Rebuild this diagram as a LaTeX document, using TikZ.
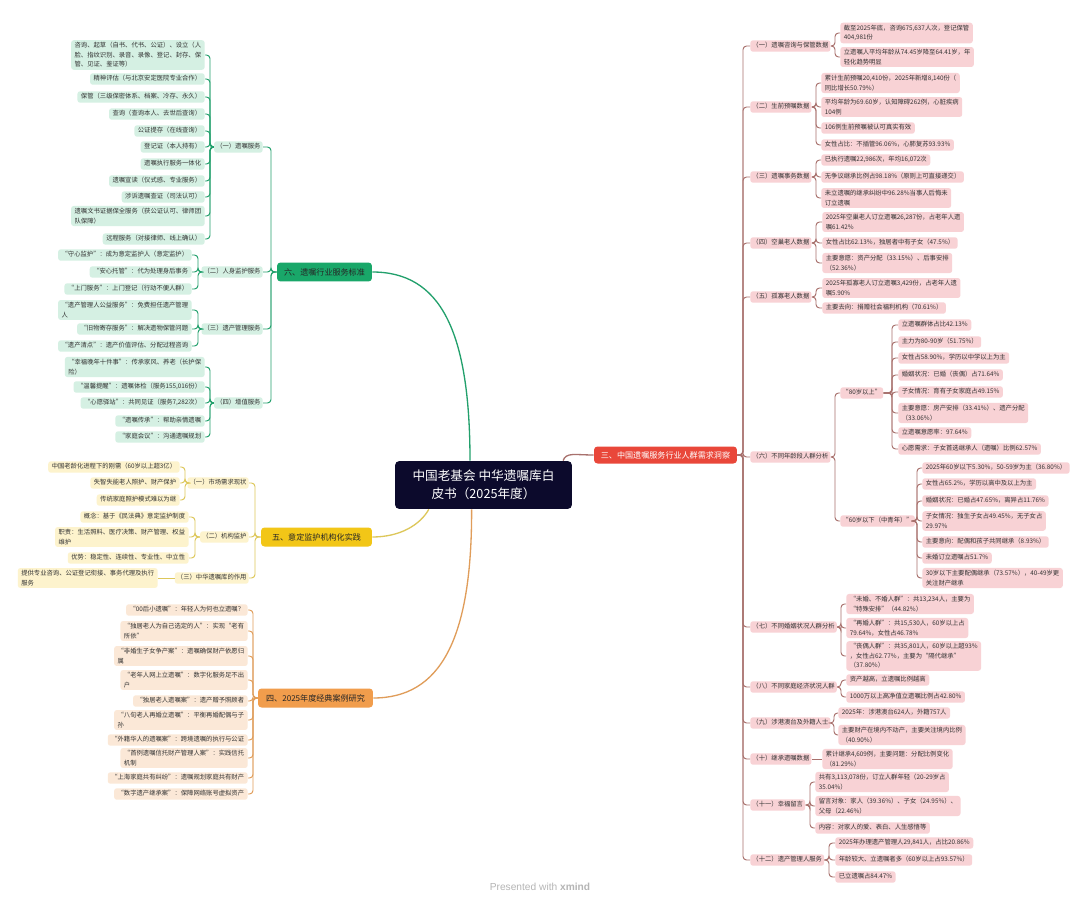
\documentclass[tikz,border=0pt]{standalone}
\usepackage{fontspec}
\setmainfont{Noto Sans CJK SC}
\newfontfamily\wmfont{Liberation Sans}
\usetikzlibrary{calc}
\definecolor{txt}{HTML}{333333}
\definecolor{rootc}{HTML}{0C0A2C}
\definecolor{gmain}{HTML}{19A769}
\definecolor{gline}{HTML}{22A06C}
\definecolor{gfill}{HTML}{D5F0E3}
\definecolor{ymain}{HTML}{F2C617}
\definecolor{yline}{HTML}{DDC75A}
\definecolor{yfill}{HTML}{FDF3CD}
\definecolor{omain}{HTML}{F19D4C}
\definecolor{oline}{HTML}{E09D5A}
\definecolor{ofill}{HTML}{FBE8D7}
\definecolor{rmain}{HTML}{E9473A}
\definecolor{rline}{HTML}{A8716D}
\definecolor{rfill}{HTML}{F8D2D5}
\definecolor{wmc}{HTML}{B5B5B5}
\tikzset{
  lf/.style={font=\fontsize{3.6}{5.4}\selectfont, text=txt, inner xsep=2pt, inner ysep=1.4pt,
             rounded corners=1.5pt, align=left, text height=2.9pt, text depth=0.8pt},
  ml/.style={text height={}, text depth={}, inner ysep=1.3pt},
  sb/.style={lf, inner xsep=1.2pt},
  G/.style={fill=gfill}, Y/.style={fill=yfill}, O/.style={fill=ofill}, R/.style={fill=rfill},
  cG/.style={draw=gline, line width=0.55pt, rounded corners=2pt},
  cY/.style={draw=yline, line width=0.55pt, rounded corners=2pt},
  cO/.style={draw=oline, line width=0.55pt, rounded corners=2pt},
  cR/.style={draw=rline, line width=0.55pt, rounded corners=2pt},
  mainB/.style={font=\fontsize{4.6}{5.6}\selectfont, rounded corners=2pt, minimum height=0.38cm, inner sep=0pt, text=black!85},
  rootB/.style={font=\fontsize{7.2}{10.2}\selectfont, fill=rootc, text=white, rounded corners=2.5pt,
             minimum width=3.54cm, minimum height=0.96cm, align=center, inner sep=0pt},
  mline/.style={line width=0.75pt}
}
\begin{document}
\begin{tikzpicture}[x=0.02cm,y=-0.02cm]
\useasboundingbox[fill=white] (0,0) rectangle (1080,906);

% ---------- root and main branches
\node[rootB] (root) at (483.5,485) {中国老基会 中华遗嘱库白\\皮书（2025年度）};
\node[mainB, fill=rmain, text=white, minimum width=2.86cm, minimum height=0.34cm] (s3) at (665.5,455) {三、中国遗嘱服务行业人群需求洞察};
\node[mainB, fill=gmain, minimum width=1.9cm] (s6) at (324.5,272) {六、遗嘱行业服务标准};
\node[mainB, fill=ymain, minimum width=2.22cm] (s5) at (316.5,537) {五、意定监护机构化实践};
\node[mainB, fill=omain, minimum width=2.3cm] (s4) at (315.5,698) {四、2025年度经典案例研究};

\draw[mline, draw=gline] (root.119) .. controls (470,330) and (440,272) .. (s6.east);
\draw[mline, draw=rline] (root.17) .. controls (566,452) and (575,455) .. (s3.west);
\draw[mline, draw=yline] (root.204) .. controls (420,525) and (400,537) .. (s5.east);
\draw[mline, draw=oline] (root.244) .. controls (472,640) and (440,698) .. (s4.east);

% ---------- 六
\node[sb,G,anchor=east] (g1) at (263,147) {（一）遗嘱服务};
\node[sb,G,anchor=east] (g2) at (263,272) {（二）人身监护服务};
\node[sb,G,anchor=east] (g3) at (263,329) {（三）遗产管理服务};
\node[sb,G,anchor=east] (g4) at (263,403) {（四）增值服务};
\coordinate (tr6) at (271,272);
\foreach \n in {g1,g2,g3,g4} \draw[cG] (s6.west) -- (tr6) |- (\n.east);

\node[lf,G,ml,anchor=east] (a1) at (205,55) {咨询、起草（自书、代书、公证）、设立（人\\脸、指纹识别、录音、录像、登记、封存、保\\管、见证、鉴证等）};
\node[lf,G,anchor=east] (a2) at (205,79) {精神评估（与北京安定医院专业合作）};
\node[lf,G,anchor=east] (a3) at (205,97) {保管（三级保密体系、档案、冷存、永久）};
\node[lf,G,anchor=east] (a4) at (205,114) {查询（查询本人、去世后查询）};
\node[lf,G,anchor=east] (a5) at (205,131) {公证提存（在线查询）};
\node[lf,G,anchor=east] (a6) at (205,147) {登记证（本人持有）};
\node[lf,G,anchor=east] (a7) at (205,164) {遗嘱执行服务一体化};
\node[lf,G,anchor=east] (a8) at (205,181) {遗嘱宣读（仪式感、专业服务）};
\node[lf,G,anchor=east] (a9) at (205,197) {涉诉遗嘱查证（司法认可）};
\node[lf,G,ml,anchor=east] (a10) at (205,216) {遗嘱文书证据保全服务（获公证认可、律师团\\队保障）};
\node[lf,G,anchor=east] (a11) at (205,239) {远程服务（对接律师、线上确认）};
\coordinate (bg1) at (210,147);
\foreach \n in {a1,a2,a3,a4,a5,a6,a7,a8,a9,a10,a11} \draw[cG] (g1.west) -- (bg1) |- (\n.east);

\node[lf,G,anchor=east] (b1) at (192,255) {“守心监护”：成为意定监护人（意定监护）};
\node[lf,G,anchor=east] (b2) at (192,272) {“安心托管”：代为处理身后事务};
\node[lf,G,anchor=east] (b3) at (192,289) {“上门服务”：上门登记（行动不便人群）};
\coordinate (bg2) at (198,272);
\foreach \n in {b1,b2,b3} \draw[cG] (g2.west) -- (bg2) |- (\n.east);

\node[lf,G,ml,anchor=east] (c1) at (192,310) {“遗产管理人公益服务”：免费担任遗产管理\\人};
\node[lf,G,anchor=east] (c2) at (192,329) {“旧物寄存服务”：解决遗物保管问题};
\node[lf,G,anchor=east] (c3) at (192,346) {“遗产清点”：遗产价值评估、分配过程咨询};
\coordinate (bg3) at (198,329);
\foreach \n in {c1,c2,c3} \draw[cG] (g3.west) -- (bg3) |- (\n.east);

\node[lf,G,ml,anchor=east] (d1) at (205,367) {“幸福晚年十件事”：传承家风、养老（长护保\\险）};
\node[lf,G,anchor=east] (d2) at (205,387) {“温馨提醒”：遗嘱体检（服务155,016份）};
\node[lf,G,anchor=east] (d3) at (205,403) {“心愿驿站”：共同见证（服务7,282次）};
\node[lf,G,anchor=east] (d4) at (205,421) {“遗嘱传承”：帮助亲情遗嘱};
\node[lf,G,anchor=east] (d5) at (205,437) {“家庭会议”：沟通遗嘱规划};
\coordinate (bg4) at (210,403);
\foreach \n in {d1,d2,d3,d4,d5} \draw[cG] (g4.west) -- (bg4) |- (\n.east);

% ---------- 五
\node[sb,Y,anchor=east] (y1) at (249,483) {（一）市场需求现状};
\node[sb,Y,anchor=east] (y2) at (249,537) {（二）机构监护};
\node[sb,Y,anchor=east] (y3) at (249,578) {（三）中华遗嘱库的作用};
\coordinate (tr5) at (255,537);
\foreach \n in {y1,y2,y3} \draw[cY] (s5.west) -- (tr5) |- (\n.east);

\node[lf,Y,anchor=east] (e1) at (180,467) {中国老龄化进程下的刚需（60岁以上超3亿）};
\node[lf,Y,anchor=east] (e2) at (180,483) {失智失能老人照护、财产保护};
\node[lf,Y,anchor=east] (e3) at (180,500) {传统家庭照护模式难以为继};
\coordinate (by1) at (185,483);
\foreach \n in {e1,e2,e3} \draw[cY] (y1.west) -- (by1) |- (\n.east);

\node[lf,Y,anchor=east] (f1) at (189,517) {概念：基于《民法典》意定监护制度};
\node[lf,Y,ml,anchor=east] (f2) at (189,537) {职责：生活照料、医疗决策、财产管理、权益\\维护};
\node[lf,Y,anchor=east] (f3) at (189,558) {优势：稳定性、连续性、专业性、中立性};
\coordinate (by2) at (195,537);
\foreach \n in {f1,f2,f3} \draw[cY] (y2.west) -- (by2) |- (\n.east);

\node[lf,Y,ml,anchor=east] (h1) at (158,578) {提供专业咨询、公证登记衔接、事务代理及执行\\服务};
\draw[cY] (y3.west) -- (h1.east);

% ---------- 四
\node[lf,O,anchor=east] (o1) at (248,610) {“00后小遗嘱”：年轻人为何也立遗嘱？};
\node[lf,O,ml,anchor=east] (o2) at (248,631) {“独居老人为自己选定的人”：实现“老有\\所依”};
\node[lf,O,ml,anchor=east] (o3) at (248,656) {“非婚生子女争产案”：遗嘱确保财产依愿归\\属};
\node[lf,O,ml,anchor=east] (o4) at (248,680) {“老年人网上立遗嘱”：数字化服务足不出\\户};
\node[lf,O,anchor=east] (o5) at (248,701) {“独居老人遗嘱案”：遗产赠予照顾者};
\node[lf,O,ml,anchor=east] (o6) at (248,720) {“八旬老人再婚立遗嘱”：平衡再婚配偶与子\\孙};
\node[lf,O,anchor=east] (o7) at (248,740) {“外籍华人的遗嘱案”：跨境遗嘱的执行与公证};
\node[lf,O,ml,anchor=east] (o8) at (248,758) {“首例遗嘱信托财产管理人案”：实践信托\\机制};
\node[lf,O,anchor=east] (o9) at (248,778) {“上海家庭共有纠纷”：遗嘱规划家庭共有财产};
\node[lf,O,anchor=east] (o10) at (248,794) {“数字遗产继承案”：保障网络账号虚拟资产};
\coordinate (tr4) at (253,698);
\foreach \n in {o1,o2,o3,o4,o5,o6,o7,o8,o9,o10} \draw[cO] (s4.west) -- (tr4) |- (\n.east);

% ---------- 三
\node[sb,R,anchor=west] (r1) at (750,46) {（一）遗嘱咨询与保管数据};
\node[sb,R,anchor=west] (r2) at (750,107) {（二）生前预嘱数据};
\node[sb,R,anchor=west] (r3) at (750,177) {（三）遗嘱事务数据};
\node[sb,R,anchor=west] (r4) at (750,243) {（四）空巢老人数据};
\node[sb,R,anchor=west] (r5) at (750,297) {（五）孤寡老人数据};
\node[sb,R,anchor=west] (r6) at (750,457) {（六）不同年龄段人群分析};
\node[sb,R,anchor=west] (r7) at (750,627) {（七）不同婚姻状况人群分析};
\node[sb,R,anchor=west] (r8) at (750,687) {（八）不同家庭经济状况人群};
\node[sb,R,anchor=west] (r9) at (750,723) {（九）涉港澳台及外籍人士};
\node[sb,R,anchor=west] (r10) at (750,759) {（十）继承遗嘱数据};
\node[sb,R,anchor=west] (r11) at (750,805) {（十一）幸福留言};
\node[sb,R,anchor=west] (r12) at (750,860) {（十二）遗产管理人服务};
\coordinate (tr3) at (743,455);
\foreach \n in {r1,r2,r3,r4,r5,r6,r7,r8,r9,r10,r11,r12} \draw[cR] (s3.east) -- (tr3) |- (\n.west);

\node[lf,R,ml,anchor=west] (p1) at (840,33) {截至2025年底，咨询675,637人次，登记保管\\404,981份};
\node[lf,R,ml,anchor=west] (p2) at (840,57) {立遗嘱人平均年龄从74.45岁降至64.41岁，年\\轻化趋势明显};
\coordinate (br1) at (835,46);
\foreach \n in {p1,p2} \draw[cR] (r1.east) -- (br1) |- (\n.west);

\node[lf,R,ml,anchor=west] (q1) at (821,83) {累计生前预嘱20,410份，2025年新增8,140份（\\同比增长50.79\%）};
\node[lf,R,ml,anchor=west] (q2) at (821,107) {平均年龄为69.60岁，认知障碍262例，心脏疾病\\104例};
\node[lf,R,anchor=west] (q3) at (821,128) {106例生前预嘱被认可真实有效};
\node[lf,R,anchor=west] (q4) at (821,145) {女性占比：不插管96.06\%，心肺复苏93.93\%};
\coordinate (br2) at (816,107);
\foreach \n in {q1,q2,q3,q4} \draw[cR] (r2.east) -- (br2) |- (\n.west);

\node[lf,R,anchor=west] (t1) at (821,160) {已执行遗嘱22,986次，年均16,072次};
\node[lf,R,anchor=west] (t2) at (821,177) {无争议继承比例占98.18\%（原则上可直接递交）};
\node[lf,R,ml,anchor=west] (t3) at (821,198) {未立遗嘱的继承纠纷中96.28\%当事人后悔未\\订立遗嘱};
\coordinate (br3) at (816,177);
\foreach \n in {t1,t2,t3} \draw[cR] (r3.east) -- (br3) |- (\n.west);

\node[lf,R,ml,anchor=west] (u1) at (822,222) {2025年空巢老人订立遗嘱26,287份，占老年人遗\\嘱61.42\%};
\node[lf,R,anchor=west] (u2) at (822,243) {女性占比62.13\%，独居者中有子女（47.5\%）};
\node[lf,R,ml,anchor=west] (u3) at (822,263) {主要意愿：资产分配（33.15\%）、后事安排\\（52.36\%）};
\coordinate (br4) at (816,243);
\foreach \n in {u1,u2,u3} \draw[cR] (r4.east) -- (br4) |- (\n.west);

\node[lf,R,ml,anchor=west] (v1) at (822,288) {2025年孤寡老人订立遗嘱3,429份，占老年人遗\\嘱5.90\%};
\node[lf,R,anchor=west] (v2) at (822,308) {主要去向：捐赠社会福利机构（70.61\%）};
\coordinate (br5) at (816,297);
\foreach \n in {v1,v2} \draw[cR] (r5.east) -- (br5) |- (\n.west);

\node[sb,R,anchor=west] (w1) at (840,393) {“80岁以上”};
\node[sb,R,anchor=west] (w2) at (840,521) {“60岁以下（中青年）”};
\coordinate (br6) at (835,457);
\foreach \n in {w1,w2} \draw[cR] (r6.east) -- (br6) |- (\n.west);

\node[lf,R,anchor=west] (ww1) at (898,325) {立遗嘱群体占比42.13\%};
\node[lf,R,anchor=west] (ww2) at (898,342) {主力为80-90岁（51.75\%）};
\node[lf,R,anchor=west] (ww3) at (898,358) {女性占58.90\%，学历以中学以上为主};
\node[lf,R,anchor=west] (ww4) at (898,375) {婚姻状况：已婚（丧偶）占71.64\%};
\node[lf,R,anchor=west] (ww5) at (898,392) {子女情况：育有子女家庭占49.15\%};
\node[lf,R,ml,anchor=west] (ww6) at (898,413) {主要意愿：房产安排（33.41\%）、遗产分配\\（33.06\%）};
\node[lf,R,anchor=west] (ww7) at (898,433) {立遗嘱意愿率：97.64\%};
\node[lf,R,anchor=west] (ww8) at (898,449) {心愿需求：子女首选继承人（遗嘱）比例62.57\%};
\coordinate (bw1) at (892,393);
\foreach \n in {ww1,ww2,ww3,ww4,ww5,ww6,ww7,ww8} \draw[cR] (w1.east) -- (bw1) |- (\n.west);

\node[lf,R,anchor=west] (x1) at (922,468) {2025年60岁以下5.30\%，50-59岁为主（36.80\%）};
\node[lf,R,anchor=west] (x2) at (922,484) {女性占65.2\%，学历以高中及以上为主};
\node[lf,R,anchor=west] (x3) at (922,501) {婚姻状况：已婚占47.65\%，离异占11.76\%};
\node[lf,R,ml,anchor=west] (x4) at (922,521) {子女情况：独生子女占49.45\%，无子女占\\29.97\%};
\node[lf,R,anchor=west] (x5) at (922,542) {主要意向：配偶和孩子共同继承（8.93\%）};
\node[lf,R,anchor=west] (x6) at (922,558) {未婚订立遗嘱占51.7\%};
\node[lf,R,ml,anchor=west] (x7) at (922,578) {30岁以下主要配偶继承（73.57\%），40-49岁更\\关注财产继承};
\coordinate (bw2) at (917,521);
\foreach \n in {x1,x2,x3,x4,x5,x6,x7} \draw[cR] (w2.east) -- (bw2) |- (\n.west);

\node[lf,R,ml,anchor=west] (ya) at (846,604) {“未婚、不婚人群”：共13,234人，主要为\\“特殊安排”（44.82\%）};
\node[lf,R,ml,anchor=west] (yb) at (846,628) {“再婚人群”：共15,530人，60岁以上占\\79.64\%，女性占46.78\%};
\node[lf,R,ml,anchor=west] (yc) at (846,656) {“丧偶人群”：共35,801人，60岁以上超93\%\\，女性占62.77\%，主要为“隔代继承”\\（37.80\%）};
\coordinate (br7) at (841,627);
\foreach \n in {ya,yb,yc} \draw[cR] (r7.east) -- (br7) |- (\n.west);

\node[lf,R,anchor=west] (z1) at (846,680) {资产越高，立遗嘱比例越高};
\node[lf,R,anchor=west] (z2) at (846,697) {1000万以上高净值立遗嘱比例占42.80\%};
\coordinate (br8) at (841,687);
\foreach \n in {z1,z2} \draw[cR] (r8.east) -- (br8) |- (\n.west);

\node[lf,R,anchor=west] (aa1) at (838,713) {2025年：涉港澳台624人，外籍757人};
\node[lf,R,ml,anchor=west] (aa2) at (838,735) {主要财产在境内不动产，主要关注境内比例\\（40.90\%）};
\coordinate (br9) at (834,723);
\foreach \n in {aa1,aa2} \draw[cR] (r9.east) -- (br9) |- (\n.west);

\node[lf,R,ml,anchor=west] (bb1) at (822,759) {累计继承4,609例，主要问题：分配比例变化\\（81.29\%）};
\draw[cR] (r10.east) -- (bb1.west);

\node[lf,R,ml,anchor=west] (cc1) at (815,782) {共有3,113,078份，订立人群年轻（20-29岁占\\35.04\%）};
\node[lf,R,ml,anchor=west] (cc2) at (815,806) {留言对象：家人（39.36\%）、子女（24.95\%）、\\父母（22.46\%）};
\node[lf,R,anchor=west] (cc3) at (815,828) {内容：对家人的爱、表白、人生感悟等};
\coordinate (br11) at (810,805);
\foreach \n in {cc1,cc2,cc3} \draw[cR] (r11.east) -- (br11) |- (\n.west);

\node[lf,R,anchor=west] (dd1) at (835,843) {2025年办理遗产管理人29,841人，占比20.86\%};
\node[lf,R,anchor=west] (dd2) at (835,860) {年龄较大、立遗嘱者多（60岁以上占93.57\%）};
\node[lf,R,anchor=west] (dd3) at (835,877) {已立遗嘱占84.47\%};
\coordinate (br12) at (829,860);
\foreach \n in {dd1,dd2,dd3} \draw[cR] (r12.east) -- (br12) |- (\n.west);

% ---------- watermark
\node[font=\wmfont\fontsize{5.8}{7}\selectfont, text=wmc, inner sep=0pt] (wm) at (540,887) {Presented with \textbf{xmind}};
\end{tikzpicture}
\end{document}
